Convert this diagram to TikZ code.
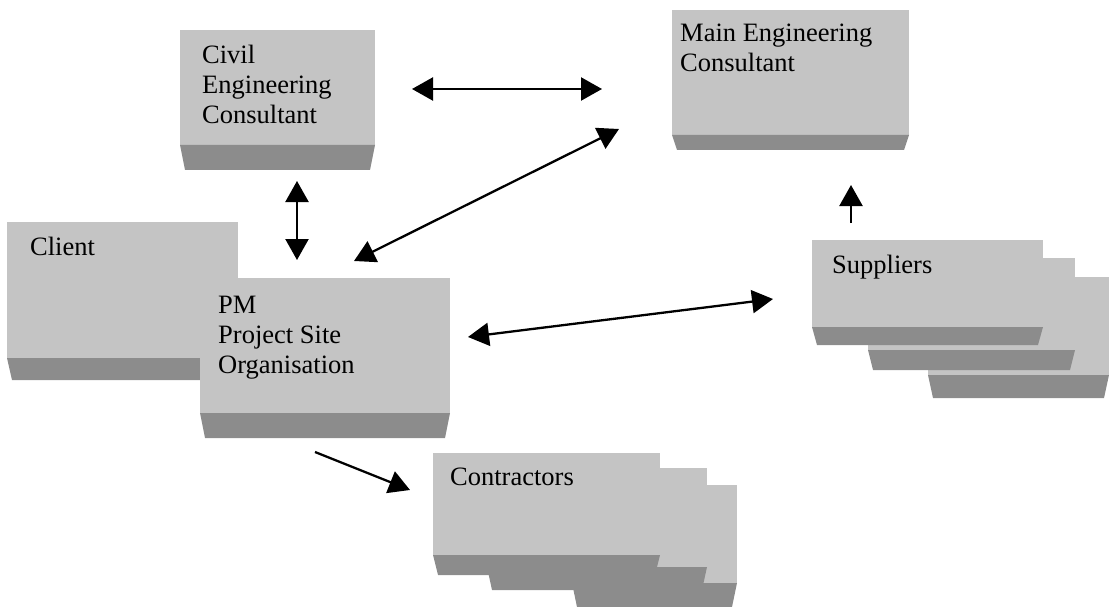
\documentclass[tikz,border=0pt]{standalone}
\usepackage{fontspec}
\setmainfont{Liberation Serif}
\usetikzlibrary{arrows.meta}

\definecolor{boxbody}{gray}{0.77}
\definecolor{boxbase}{gray}{0.55}

% a block: body from (#1,#2) to (#3,#5), darker bevelled base from #5 down to #4
\newcommand\slab[5]{%
  \fill[boxbody] (#1,#2) rectangle (#3,#5);
  \fill[boxbase] (#1,#5) -- (#3,#5) -- ({#3-5},#4) -- ({#1+5},#4) -- cycle;
}

\tikzset{
  lbl/.style={anchor=base west, inner sep=0pt, align=left,
              font=\fontsize{26.5}{30}\selectfont},
  tip/.style={Triangle[length=21pt,width=23pt]},
  link/.style={line width=2.3pt, {Triangle[length=21pt,width=23pt]}-{Triangle[length=21pt,width=23pt]}},
  onelink/.style={line width=2.3pt, -{Triangle[length=21pt,width=23pt]}},
}

\begin{document}
\begin{tikzpicture}[x=1pt,y=-1pt]
\useasboundingbox (0,0) rectangle (1109,607);

% blocks
\slab{180}{30}{375}{170}{145}    % civil engineering consultant
\slab{672}{10}{909}{150}{135}    % main engineering consultant
\slab{7}{222}{238}{380}{358}     % client
\slab{200}{278}{450}{438}{413}   % project site organisation
% suppliers stack
\slab{928}{277}{1109}{398}{375}
\slab{868}{258}{1075}{370}{350}
\slab{812}{240}{1043}{345}{327}
% contractors stack
\slab{572}{485}{737}{607}{583}
\slab{487}{468}{707}{590}{567}
\slab{433}{453}{660}{575}{555}

% labels (anchored at the baseline of their last line)
\node[lbl] (civil)   at (202,124) {Civil\\Engineering\\Consultant};
\node[lbl] (main)    at (680,72)  {Main Engineering\\Consultant};
\node[lbl] (client)  at (30,255)  {Client};
\node[lbl] (pm)      at (218,373) {PM\\Project Site\\Organisation};
\node[lbl] (supp)    at (832,273) {Suppliers};
\node[lbl] (contr)   at (450,485) {Contractors};

% connector ends
\coordinate (civ-e)  at (412,89);
\coordinate (main-w) at (602,89);
\coordinate (civ-s)  at (297,181);
\coordinate (pm-n)   at (297,260);
\coordinate (pm-ne)  at (354,261);
\coordinate (main-sw) at (619,129);
\coordinate (pm-e)   at (468,337);
\coordinate (supp-w) at (773,299);
\coordinate (supp-n) at (851,223);
\coordinate (main-s) at (851,185);
\coordinate (pm-s)   at (315,452);
\coordinate (contr-w) at (410,490);

% connectors
\draw[link] (civ-e) -- (main-w);
\draw[link] (civ-s) -- (pm-n);
\draw[link] (pm-ne) -- (main-sw);
\draw[link] (pm-e) -- (supp-w);
\draw[onelink] (supp-n) -- (main-s);
\draw[onelink] (pm-s) -- (contr-w);
\end{tikzpicture}
\end{document}
